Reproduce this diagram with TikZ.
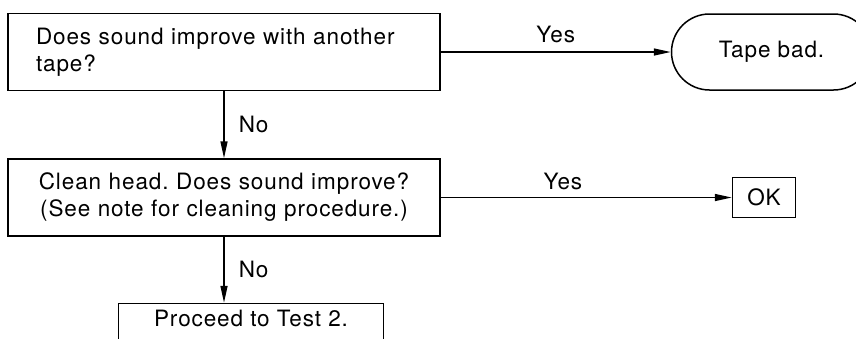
\documentclass[tikz,border=0pt]{standalone}
\usepackage{fontspec}
\setmainfont[LetterSpace=4]{TeX Gyre Heros}
\usepackage{tikz}
\usetikzlibrary{positioning,arrows.meta,shapes.misc}
\frenchspacing

\begin{document}
\begin{tikzpicture}[
    x=1pt, y=1pt,
    font=\fontsize{22.5}{27}\selectfont,
    box/.style={draw, line width=1.5pt, inner sep=0pt},
    qbox/.style={box, text width=376pt, minimum width=432pt,
                 minimum height=77pt},
    okbox/.style={box, minimum width=63pt, minimum height=40pt},
    endbox/.style={box, rounded rectangle, minimum width=200pt,
                   minimum height=76pt},
    nextbox/.style={box, minimum width=265pt, text height=16pt,
                    text depth=14pt, inner ysep=7pt},
    arr/.style={-{Triangle[length=17pt, width=7pt]}, line width=1.5pt},
    lbl/.style={inner sep=2pt},
]
\useasboundingbox (0,0) rectangle (856,-338);
\clip (0,0) rectangle (856,-338);

% ---- Tape check ----
\node[qbox, align=left]               (sndq)  at (224,-52)
    {Does sound improve with another\\tape?};
\node[endbox, right=230pt of sndq]    (bad)   {Tape bad.};

\draw[arr] (sndq) -- node[lbl, above, yshift=6pt]{Yes} (bad);

% ---- Head check ----
\node[qbox, align=center, below=67pt of sndq] (headq)
    {Clean head. Does sound improve?\\(See note for cleaning procedure.)};
\node[okbox, right=291pt of headq]    (ok)    {OK};
\node[nextbox, below=66pt of headq, xshift=27pt] (test2) {Proceed to Test 2.};

\draw[arr] (sndq) -- node[lbl, right, xshift=12pt]{No} (headq);
\draw[arr] (headq) -- node[lbl, above, yshift=5pt, pos=0.42]{Yes} (ok);
\draw[arr] (headq.south) -- node[lbl, right, xshift=12pt]{No} (headq.south |- test2.north);
\end{tikzpicture}
\end{document}
